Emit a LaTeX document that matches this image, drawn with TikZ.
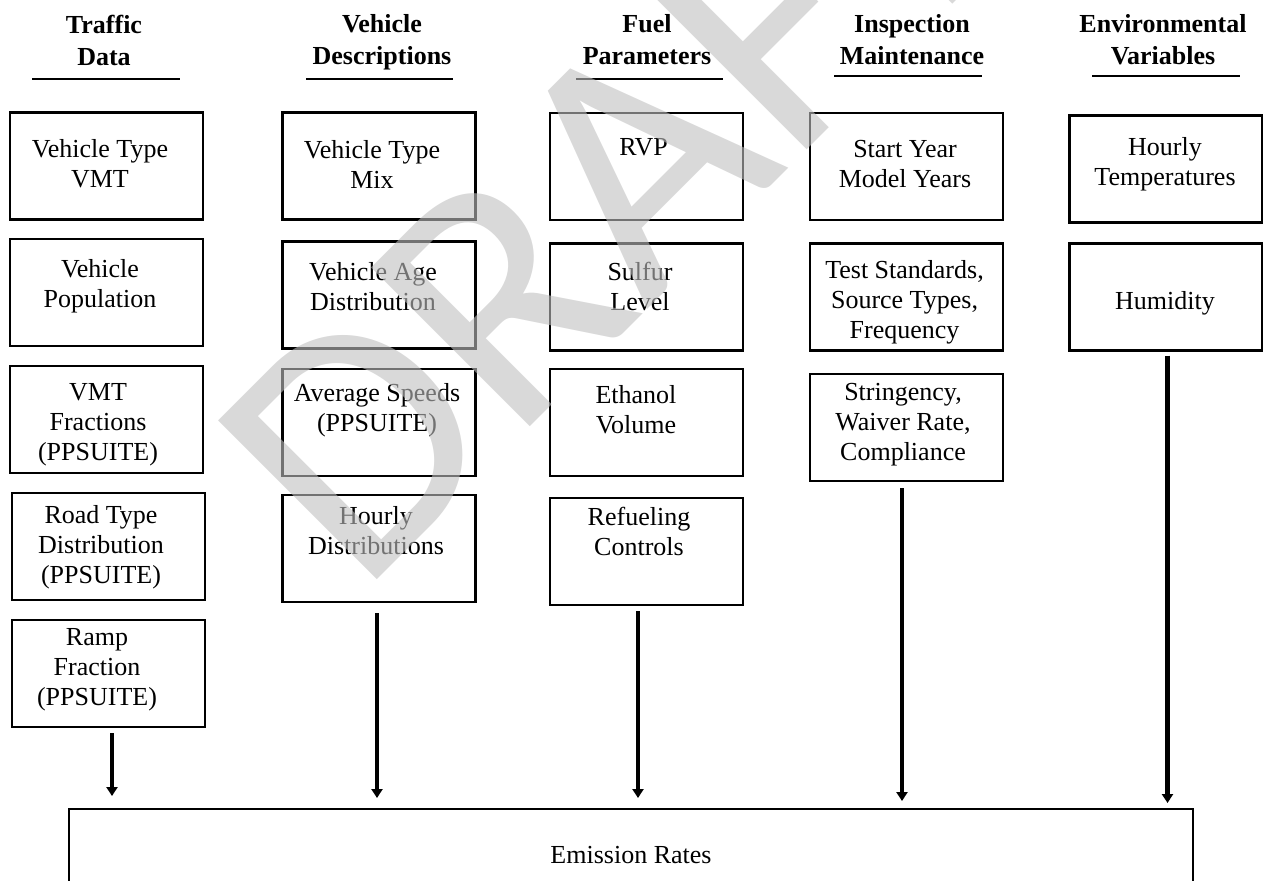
\documentclass[tikz,border=0pt]{standalone}
\usepackage{fontspec}
\setmainfont{Liberation Serif}
\newfontfamily\draftfont{Carlito}
\usetikzlibrary{arrows.meta}

\tikzset{
  head/.style = {align=center, font=\bfseries\fontsize{13}{16}\selectfont, inner sep=0pt},
  box/.style = {draw, line width=1.2pt, minimum width=96.5pt, minimum height=53.5pt, inner sep=0pt},
  txt/.style = {align=center, font=\fontsize{13}{15}\selectfont, inner sep=0pt},
  rule/.style = {line width=1.3pt},
  flow/.style = {line width=2.4pt, -{Triangle[width=5.5pt,length=4.5pt]}},
  draft/.style = {font=\draftfont\fontsize{175}{175}\selectfont, text=black!25, text opacity=0.6, inner sep=0pt}
}

\begin{document}
\begin{tikzpicture}[x=0.5pt, y=-0.5pt]
\clip (0,0) rectangle (1263,880);
% column headings
\node[head] (traffic) at (104,40) {Traffic\\Data};
\node[head] (vehicle) at (382,42) {Vehicle\\Descriptions};
\node[head] (fuel) at (647,40) {Fuel\\Parameters};
\node[head] (inspect) at (912,40) {Inspection\\Maintenance};
\node[head] (environ) at (1163,40) {Environmental\\Variables};
\draw[rule] (32,79) -- (180,79);
\draw[rule] (306,79) -- (453,79);
\draw[rule] (576,79) -- (723,79);
\draw[rule] (834,76) -- (982,76);
\draw[rule] (1092,76) -- (1240,76);
% traffic data
\node[box] (traffic1) at (106.5,166) {};
\node[txt] (traffic1t) at (100,164) {Vehicle Type\\VMT};
\node[box] (traffic2) at (106.5,292.5) {};
\node[txt] (traffic2t) at (100,286) {Vehicle\\Population};
\node[box] (traffic3) at (106.5,419.5) {};
\node[txt] (traffic3t) at (98,425) {VMT\\Fractions\\(PPSUITE)};
\node[box] (traffic4) at (108.5,546.5) {};
\node[txt] (traffic4t) at (101,547) {Road Type\\Distribution\\(PPSUITE)};
\node[box] (traffic5) at (108.5,673.5) {};
\node[txt] (traffic5t) at (97,670) {Ramp\\Fraction\\(PPSUITE)};
% vehicle descriptions
\node[box] (vehicle1) at (379,166) {};
\node[txt] (vehicle1t) at (372,164) {Vehicle Type\\Mix};
\node[box] (vehicle2) at (379,295) {};
\node[txt] (vehicle2t) at (373,287) {Vehicle Age\\Distribution};
\node[box] (vehicle3) at (379,422.5) {};
\node[txt] (vehicle3t) at (377,410) {Average Speeds\\(PPSUITE)};
\node[box] (vehicle4) at (379,548.5) {};
\node[txt] (vehicle4t) at (376,531) {Hourly\\Distributions};
% fuel parameters
\node[box] (fuel1) at (646.5,166.5) {};
\node[txt] (fuel1t) at (643.5,147) {RVP};
\node[box] (fuel2) at (646.5,297) {};
\node[txt] (fuel2t) at (640,286) {Sulfur\\Level};
\node[box] (fuel3) at (646.5,422.5) {};
\node[txt] (fuel3t) at (636,409.5) {Ethanol\\Volume};
\node[box] (fuel4) at (646.5,551.5) {};
\node[txt] (fuel4t) at (639,531.5) {Refueling\\Controls};
% inspection maintenance
\node[box] (inspect1) at (906.5,166.5) {};
\node[txt] (inspect1t) at (905,164) {Start Year\\Model Years};
\node[box] (inspect2) at (906.5,297) {};
\node[txt] (inspect2t) at (904.5,302) {Test Standards,\\Source Types,\\Frequency};
\node[box] (inspect3) at (906.5,427.5) {};
\node[txt] (inspect3t) at (903,425) {Stringency,\\Waiver Rate,\\Compliance};
% environmental variables
\node[box] (environ1) at (1166,169) {};
\node[txt] (environ1t) at (1165,164) {Hourly\\Temperatures};
\node[box] (environ2) at (1166,297) {};
\node[txt] (environ2t) at (1165,303) {Humidity};
% result
\node[box, txt, line width=1pt, minimum width=562pt, minimum height=46pt] (rates) at (631,855) {Emission Rates};
\draw[flow, shorten <=2.5pt, shorten >=6pt] ([xshift=1.75pt]traffic5.south) -- ([xshift=1.75pt]traffic5.south |- rates.north);
\draw[flow, shorten <=5pt, shorten >=5pt] ([xshift=-1pt]vehicle4.south) -- ([xshift=-1pt]vehicle4.south |- rates.north);
\draw[flow, shorten <=2.5pt, shorten >=5pt] ([xshift=-4.25pt]fuel4.south) -- ([xshift=-4.25pt]fuel4.south |- rates.north);
\draw[flow, shorten <=3pt, shorten >=3.5pt] ([xshift=-2.25pt]inspect3.south) -- ([xshift=-2.25pt]inspect3.south |- rates.north);
\draw[flow, shorten <=2pt, shorten >=2.5pt] ([xshift=0.75pt]environ2.south) -- ([xshift=0.75pt]environ2.south |- rates.north);
% watermark
\node[draft, rotate=45, anchor=base west] (stamp) at (360,597) {DRAFT};
\end{tikzpicture}
\end{document}
